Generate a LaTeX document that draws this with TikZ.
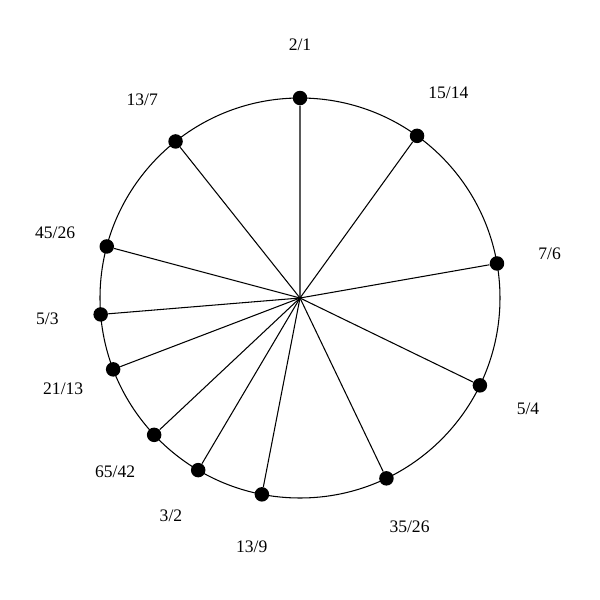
\documentclass[tikz,border=0pt]{standalone}
\usepackage{fontspec}
\setmainfont{Liberation Serif}
\usetikzlibrary{calc}

\begin{document}
\begin{tikzpicture}[every node/.style={font=\normalsize},
    ratio/.style={circle,fill=black,inner sep=0pt,minimum size=0.29cm},
    spoke/.style={line width=0.6pt}]

    \useasboundingbox (-6,-6.04) rectangle (6,5.96);
    \coordinate (CENTER) at (0,0);
    \draw[line width=0.6pt] (CENTER) circle (4cm);

    \foreach \n/\d in {2/1,15/14,7/6,5/4,35/26,13/9,3/2,65/42,21/13,5/3,45/26,13/7} {
      \pgfmathsetmacro{\ang}{90-360*ln(\n/\d)/ln(2)}
      \node[ratio] (P\n-\d) at (\ang:4cm) {};
      \node (L\n-\d) at (\ang:5.07cm) {\n/\d};
      \path[draw,spoke] (CENTER) -- (P\n-\d);
    }
  \end{tikzpicture}
\end{document}
